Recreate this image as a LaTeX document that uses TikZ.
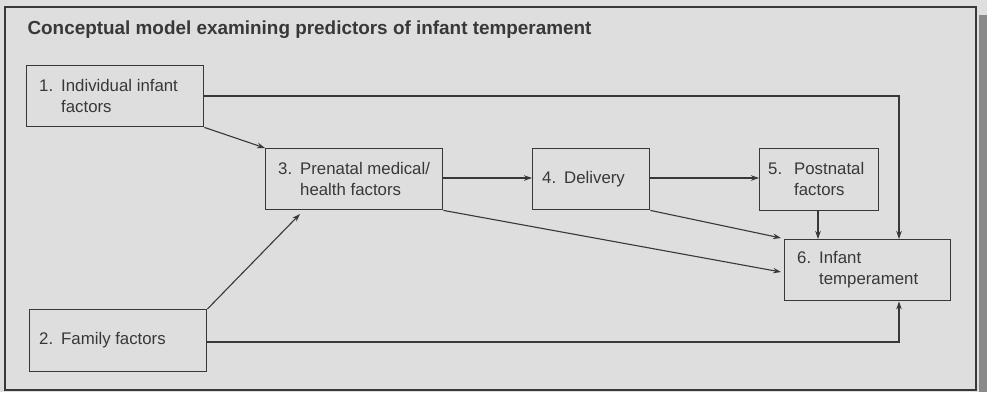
\documentclass[tikz,border=0pt]{standalone}
\usepackage{fontspec}
\setmainfont{Liberation Sans}
\usetikzlibrary{arrows.meta}
\definecolor{bg}{HTML}{DEDEDE}
\definecolor{ink}{HTML}{383838}
\definecolor{strip}{HTML}{8A8A8A}
\newcommand{\numlab}[1]{\makebox[22pt][l]{#1}}
\begin{document}
\begin{tikzpicture}[x=1pt,y=-1pt,
  boxnode/.style={draw=ink,line width=1.4pt,anchor=north west,inner sep=0pt},
  boxtext/.style={anchor=west,font=\fontsize{16.8}{21}\selectfont,text=ink,align=left,inner sep=0pt},
  conn/.style={draw=ink,line width=1.1pt,-{Stealth[length=8pt,width=5.5pt]}}]
\useasboundingbox (0,0) rectangle (987,392);
\fill[bg] (0,0) rectangle (987,392);
\fill[strip] (979,15) rectangle (987,392);
\draw[ink,line width=1.8pt] (5,7) rectangle (976,390);
\node[anchor=west,font=\bfseries\fontsize{18.9}{22}\selectfont,text=ink] (title) at (24,30) {Conceptual model examining predictors of infant temperament};
% boxes
\node[boxnode,minimum width=177pt,minimum height=61pt] (b1) at (26,65) {};
\node[boxtext] (t1) at (39,96) {\numlab{1.}Individual infant\\\numlab{}factors};
\node[boxnode,minimum width=177pt,minimum height=61pt] (b3) at (265,148) {};
\node[boxtext] (t3) at (278,179) {\numlab{3.}Prenatal medical/\\\numlab{}health factors};
\node[boxnode,minimum width=117pt,minimum height=61pt] (b4) at (532,148) {};
\node[boxtext] (t4) at (542,179) {\numlab{4.}Delivery};
\node[boxnode,minimum width=119pt,minimum height=62pt] (b5) at (759,148) {};
\node[boxtext] (t5) at (768,179) {\makebox[26pt][l]{5.}Postnatal\\\makebox[26pt][l]{}factors};
\node[boxnode,minimum width=166pt,minimum height=61pt] (b6) at (784,239) {};
\node[boxtext] (t6) at (797,270) {\numlab{6.}Infant\\\numlab{}temperament};
\node[boxnode,minimum width=177pt,minimum height=62pt] (b2) at (29,309) {};
\node[boxtext] (t2) at (39,340) {\numlab{2.}Family factors};
% connector points
\coordinate (c1) at (899,96);
\coordinate (c2) at (899,342);
\coordinate (p3in) at (300,214);
\coordinate (p6a) at (781,238);
\coordinate (p6b) at (781,272);
\coordinate (p5) at (818,210);
% connectors
\draw[conn] (b1.east |- c1) -- (c1) -- (b6.north -| c1);
\draw[conn] (b1.south east) -- (b3.north west);
\draw[conn] (b2.north east) -- (p3in);
\draw[conn] (b3.east |- 0,178) -- (b4.west |- 0,178);
\draw[conn] (b4.east |- 0,178) -- (b5.west |- 0,178);
\draw[conn] (b4.south east) -- (p6a);
\draw[conn] (b3.south east) -- (p6b);
\draw[conn] (p5) -- (b6.north -| p5);
\draw[conn] (b2.east |- c2) -- (c2) -- (b6.south -| c2);
\end{tikzpicture}
\end{document}
